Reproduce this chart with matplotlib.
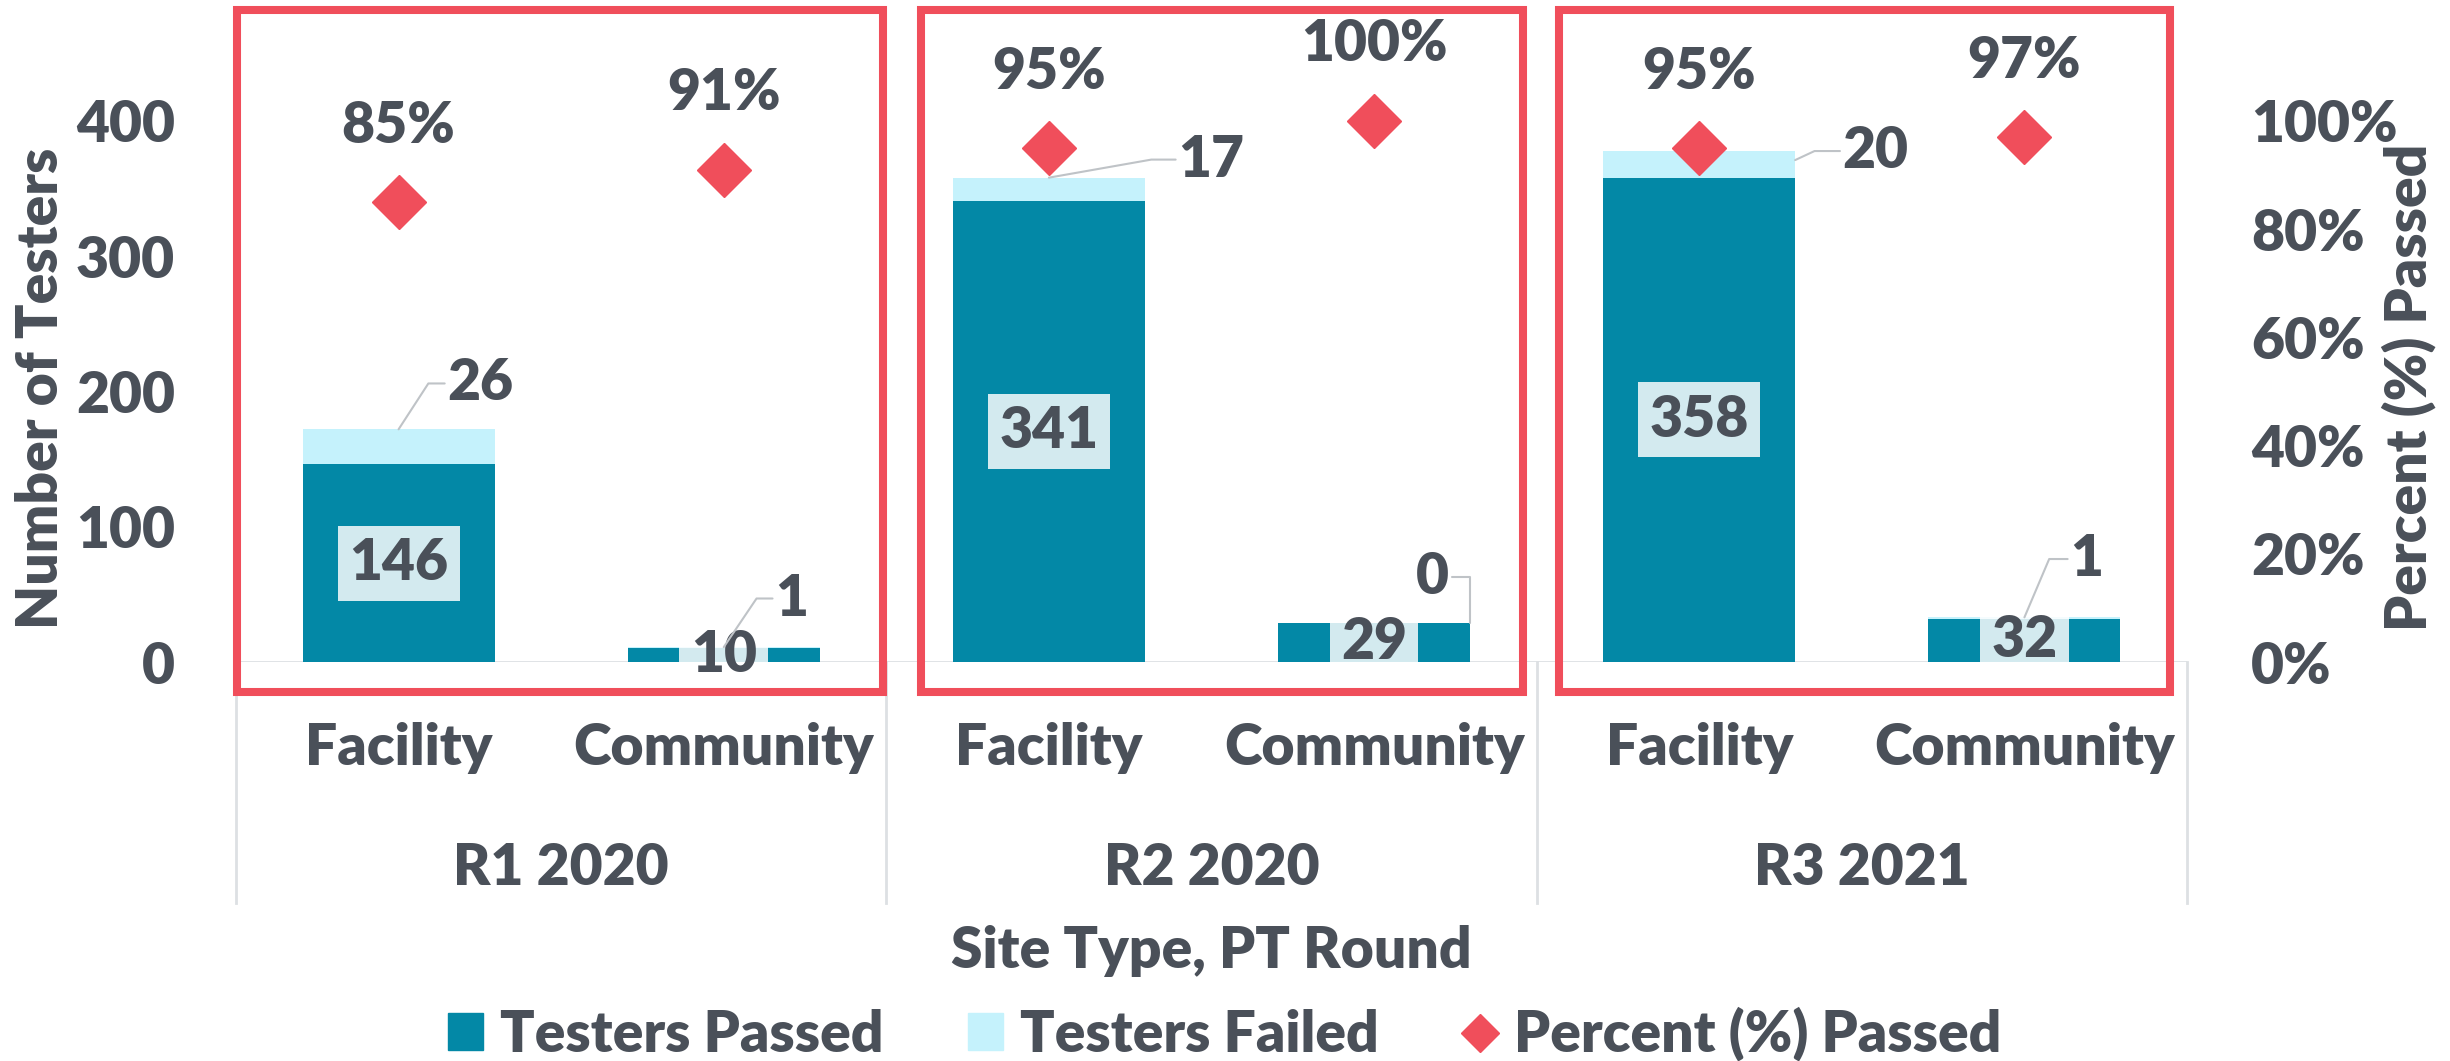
import matplotlib
matplotlib.use('Agg')
import matplotlib.pyplot as plt
from matplotlib.patches import Rectangle, Patch
from matplotlib.lines import Line2D

rounds = ['R1 2020', 'R2 2020', 'R3 2021']
sites = ['Facility', 'Community', 'Facility', 'Community', 'Facility', 'Community']
passed = [146, 10, 341, 29, 358, 32]
failed = [26, 1, 17, 0, 20, 1]
pct_passed = [85, 91, 95, 100, 95, 97]
left_ticks = [0, 100, 200, 300, 400]
right_ticks = [0, 20, 40, 60, 80, 100]

plt.rcParams['font.family'] = ['Lato', 'DejaVu Sans']
plt.rcParams['font.weight'] = 800

TEXT = '#4A5059'
TEAL = '#0388A6'
LIGHT = '#C5F2FC'
RED = '#F04E5B'
GRID = '#DDE0E3'
FS = 41
BW = 0.59

fig = plt.figure(figsize=(24.5, 10.61), dpi=100)
ax = fig.add_axes([236 / 2450, 1 - 662 / 1061, (2187 - 236) / 2450, 649.4 / 1061])

x = list(range(len(sites)))
ax.bar(x, passed, width=BW, color=TEAL, zorder=2)
ax.bar(x, failed, width=BW, bottom=passed, color=LIGHT, zorder=2)
ax.set_xlim(-0.5, 5.5)
ax.set_ylim(0, 480)
ax.set_yticks(left_ticks)
ax.set_xticks([])
ax.tick_params(axis='y', length=0, pad=44, labelsize=FS, labelcolor=TEXT)
for s in ax.spines.values():
    s.set_visible(False)
ax.axhline(0, color=GRID, lw=2, zorder=1)

# passed labels: semi-transparent white box in the middle of each bar
for i, p in enumerate(passed):
    ax.text(i, p / 2, str(p), ha='center', va='center', fontsize=FS, color=TEXT, zorder=4,
            bbox=dict(boxstyle='square,pad=0.2', fc='white', alpha=0.83, ec='none'))

# failed labels as callouts with leader lines
failed_offsets = [(59, 33), (49, 35), (117, 13), (-27, 33), (58, 6.5), (45, 42)]
leader_dx = [0, 0, 0, BW / 2, BW / 2, 0]
leader_frac = [1, 1, 1, 1, 0.65, 1]
leader_angle = [57, 56, 10, 90, 25, 67]
for i, f in enumerate(failed):
    ax.annotate(str(f), xy=(i + leader_dx[i], passed[i] + f * leader_frac[i]),
                xytext=failed_offsets[i], textcoords='offset points',
                ha='center', va='center', fontsize=FS, color=TEXT, zorder=4,
                arrowprops=dict(arrowstyle='-', color='#BFC3C7', lw=1.5, shrinkA=0, shrinkB=0,
                                connectionstyle=f'angle,angleA=0,angleB={leader_angle[i]},rad=0'))

# category / group labels below axis
xt = ax.get_xaxis_transform()
for i, s in enumerate(sites):
    ax.text(i, -0.1586, s, transform=xt, ha='center', va='baseline', fontsize=FS, color=TEXT)
for g, r in enumerate(rounds):
    ax.text(2 * g + 0.5, -0.3434, r, transform=xt, ha='center', va='baseline', fontsize=FS, color=TEXT)
for b in [-0.5, 1.5, 3.5, 5.5]:
    ax.plot([b, b], [0, -0.371], transform=xt, color=GRID, lw=2, clip_on=False)

# percent axis
ax2 = ax.twinx()
ax2.set_ylim(0, 120)
ax2.set_yticks(right_ticks)
ax2.set_yticklabels([f'{t}%' for t in right_ticks])
ax2.tick_params(axis='y', length=0, pad=46, labelsize=FS, labelcolor=TEXT)
for s in ax2.spines.values():
    s.set_visible(False)
ax2.plot(x, pct_passed, ls='none', marker='D', ms=28, color=RED, zorder=3)
for i, v in enumerate(pct_passed):
    ax2.annotate(f'{v}%', xy=(i, v), xytext=(0, 55), textcoords='offset points',
                 ha='center', va='center', fontsize=FS, color=TEXT)

# red highlight boxes around each round
for x0, x1 in [(-0.497, 1.49), (1.606, 3.457), (3.568, 5.447)]:
    ax2.add_patch(Rectangle((x0, -0.046), x1 - x0, 1.05, transform=ax2.get_xaxis_transform(),
                            fill=False, ec=RED, lw=5.8, clip_on=False, zorder=5))

fig.text(41 / 2450, 1 - 388 / 1061, 'Number of Testers', rotation=90, ha='center', va='center',
         fontsize=FS, color=TEXT)
fig.text(2409 / 2450, 1 - 387 / 1061, 'Percent (%) Passed', rotation=90, ha='center', va='center',
         fontsize=FS, color=TEXT)
fig.text(1211 / 2450, 1 - 968 / 1061, 'Site Type, PT Round', ha='center', va='baseline',
         fontsize=FS, color=TEXT)

handles = [Patch(color=TEAL, label='Testers Passed'),
           Patch(color=LIGHT, label='Testers Failed'),
           Line2D([], [], ls='none', marker='D', ms=19.4, color=RED, label='Percent (%) Passed')]
leg = fig.legend(handles=handles, loc='center', bbox_to_anchor=(0.5, 1 - 1034 / 1061), ncol=3,
                 frameon=False, fontsize=FS, handlelength=0.62, handleheight=0.62,
                 handletextpad=0.29, columnspacing=1.48, borderpad=0)
for t in leg.get_texts():
    t.set_color(TEXT)

fig.savefig('out.png', dpi=100)
